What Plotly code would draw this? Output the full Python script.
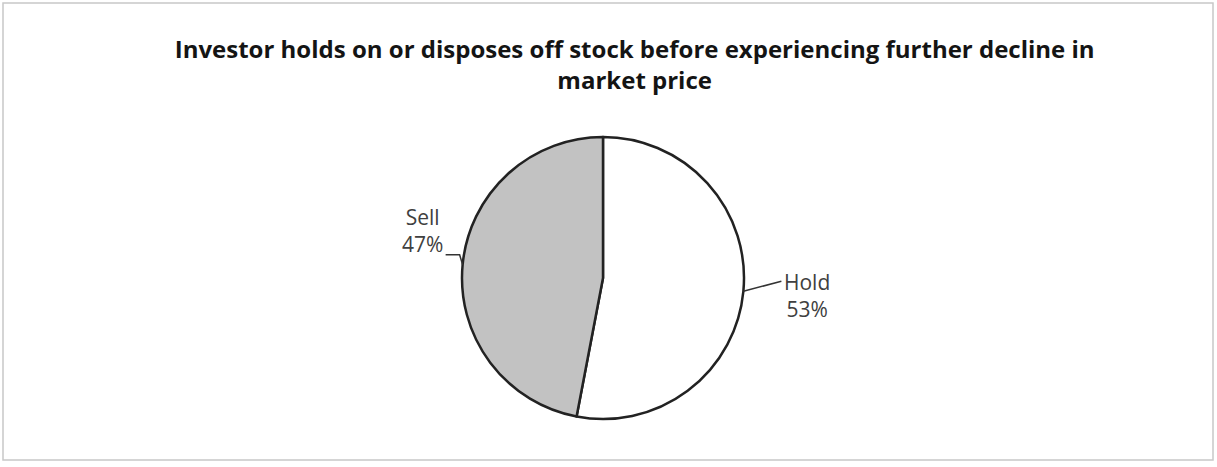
import math
import plotly.graph_objects as go

# data
labels = ["Hold", "Sell"]
shares = [53, 47]
slice_colors = ["#ffffff", "#c2c2c2"]
title_text = ("Investor holds on or disposes off stock before experiencing further decline in"
              "<br>market price")

W, H = 1217, 467
cx, cy, r = 603, 278, 141   # pie centre / radius in pixels


def to_paper(x, y):
    return x / W, 1 - y / H


fig = go.Figure()
fig.add_trace(go.Pie(
    labels=labels,
    values=shares,
    sort=False,
    direction="clockwise",
    rotation=0,
    textinfo="none",
    hoverinfo="label+percent",
    marker=dict(colors=slice_colors, line=dict(color="#222222", width=2.5)),
    domain=dict(x=[(cx - r) / W, (cx + r) / W], y=[1 - (cy + r) / H, 1 - (cy - r) / H]),
    showlegend=False,
))

# data labels with leader lines, placed from each slice's mid angle
total = sum(shares)
cum = 0
annotations = []
shapes = []
for lab, val in zip(labels, shares):
    mid = (cum + val / 2) / total * 2 * math.pi
    cum += val
    ex = cx + r * math.sin(mid)
    ey = cy - r * math.cos(mid)
    txt = f"{lab}<br>{round(val / total * 100)}%"
    if math.sin(mid) >= 0:
        lx, ly = ex + 38, ey - 10
        path = "M {} {} L {} {}".format(*to_paper(ex, ey), *to_paper(lx, ly))
        ax, ay = to_paper(ex + 39, ey - 25)
        annotations.append(dict(x=ax, y=ay, xref="paper", yref="paper", text=txt,
                                xanchor="left", yanchor="top", showarrow=False, align="center"))
    else:
        p1 = to_paper(ex - 3, ey - 10)
        p2 = to_paper(ex - 17, ey - 10)
        path = "M {} {} L {} {} L {} {}".format(*to_paper(ex, ey), *p1, *p2)
        ax, ay = to_paper(ex - 18, ey - 5)
        annotations.append(dict(x=ax, y=ay, xref="paper", yref="paper", text=txt,
                                xanchor="right", yanchor="bottom", showarrow=False, align="center"))
    shapes.append(dict(type="path", path=path, xref="paper", yref="paper",
                       line=dict(color="#333333", width=1.5)))

# chart frame
x0, y0 = to_paper(3, 3)
x1, y1 = to_paper(1213, 460)
shapes.append(dict(type="rect", xref="paper", yref="paper", x0=x0, y0=y1, x1=x1, y1=y0,
                   line=dict(color="#c8c8c8", width=1.5)))

fig.update_layout(
    width=W, height=H,
    margin=dict(l=0, r=0, t=0, b=0),
    paper_bgcolor="white",
    plot_bgcolor="white",
    font=dict(family="Open Sans, sans-serif", size=21, color="#404040"),
    title=dict(text="<b>" + title_text + "</b>", x=0.5215, xanchor="center",
               y=1 - 58 / H, yanchor="top",
               font=dict(family="Open Sans, sans-serif", size=24, color="#141414")),
    annotations=annotations,
    shapes=shapes,
)

fig.write_html("out.html", config={"displayModeBar": False},
               post_script="document.body.style.margin='0';")
